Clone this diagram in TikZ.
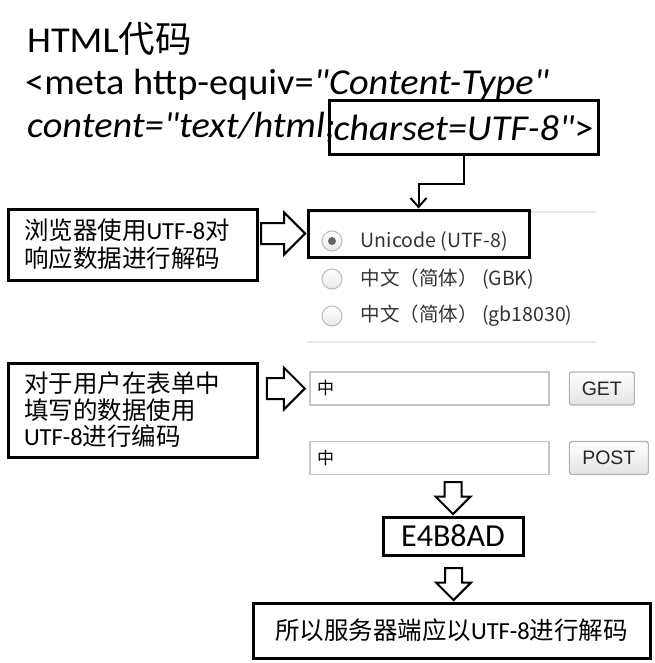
\documentclass[tikz,border=0pt]{standalone}
\usepackage{fontspec}
\setmainfont{Carlito}
\newfontfamily\codefont{Carlito}[FakeStretch=1.05]
\newfontfamily\zhfont{Noto Sans CJK SC}
\newfontfamily\btnfont{Liberation Sans}
\usetikzlibrary{positioning,shapes.arrows,arrows.meta}
\newcommand\zh[1]{{\zhfont #1}}

\tikzset{
	zeile/.style={anchor=base west,inner sep=0pt,font=\codefont\fontsize{36.5}{42}\selectfont},
	kasten/.style={draw,line width=3pt,inner sep=0pt,font=\fontsize{24.5}{28}\selectfont},
	dickpfeil/.style={single arrow,draw,line width=2pt,inner xsep=0pt,inner ysep=9.5pt,
		single arrow head extend=10.5pt,minimum width=40pt,minimum height=44pt},
	runter/.style={rotate=-90,inner ysep=7.5pt,single arrow head extend=9pt,
		minimum width=33pt,minimum height=32pt},
	verbinder/.style={line width=2pt,-{Straight Barb[length=9pt,width=16pt]}},
	trenner/.style={gray!18,line width=1.5pt},
	radio/.style={circle,draw=gray!55,line width=1pt,top color=white,bottom color=gray!18,
		inner sep=0pt,minimum size=20pt},
	option/.style={inner sep=0pt,text=black!80,font=\zhfont\fontsize{19.5}{24}\selectfont},
	eingabe/.style={draw=gray!45,line width=1.5pt,minimum width=239pt,minimum height=33pt,
		text width=225pt,inner xsep=7pt,align=left,font=\zhfont\fontsize{17}{18}\selectfont},
	knopf/.style={draw=gray!60,line width=1.2pt,rounded corners=2.5pt,top color=white,
		bottom color=gray!22,minimum height=33pt,text=black!85,
		font=\btnfont\fontsize{19.5}{20}\selectfont}
}

\begin{document}
\begin{tikzpicture}[x=1pt,y=-1pt]
	\useasboundingbox (0,0) rectangle (654,663);
	% Titel und HTML-Code
	\node[zeile] (titel) at (27,53) {HTML\zh{代码}};
	\node[zeile] (meta) at (25,95) {<meta http-equiv=\textit{"Content-Type"}};
	\node[zeile] (content) at (27,138) {\textit{content="text/html;}};
	\node[kasten,minimum width=269pt,minimum height=54pt,font=\codefont\fontsize{36.5}{42}\selectfont]
		(charset) at (463.5,128) {\textit{charset=UTF-8"}>};
	% Browser: Auswahl der Kodierung
	\draw[trenner] (308,212) -- (596,212);
	\draw[trenner] (307,342) -- (596,342);
	\foreach \y/\t [count=\i] in {241/Unicode (UTF-8),279/中文（简体） (GBK),316/中文（简体） (gb18030)}{
		\node[radio] (radio\i) at (332,\y) {};
		\node[option,anchor=west,right=18pt of radio\i] (opt\i) {\t};
	}
	\fill[black!60] (radio1) circle (4pt);
	\node[kasten,minimum width=221pt,minimum height=47pt] (unibox) at (418.5,233.5) {};
	\draw[verbinder] (charset.south) -- ++(0,27) -| (unibox.north);
	% Erklaerung links oben
	\node[kasten,minimum width=249pt,minimum height=71pt,text width=217pt,align=left]
		(erkl1) at (132.5,244.5) {\zh{浏览器使用}UTF-8\zh{对}\\\zh{响应数据进行解码}};
	\node[dickpfeil,anchor=east] (pfeil1) at (unibox.west) {};
	% Formular
	\node[eingabe] (eingabe1) at (429.5,388.5) {\zh{中}};
	\node[eingabe,below=35pt of eingabe1] (eingabe2) {\zh{中}};
	\node[knopf,minimum width=65pt,right=19pt of eingabe1] (get) {GET};
	\node[knopf,minimum width=79pt,right=19pt of eingabe2] (post) {POST};
	% Erklaerung links unten
	\node[kasten,minimum width=249pt,minimum height=94pt,text width=217pt,align=left,
		font=\fontsize{24.5}{26.5}\selectfont]
		(erkl2) at (132.5,410) {\zh{对于用户在表单中}\\\zh{填写的数据使用}\\UTF-8\zh{进行编码}};
	\node[dickpfeil,anchor=east,minimum height=38pt] (pfeil2) at ([xshift=-3pt]eingabe1.west) {};
	% Kodierung und Ergebnis
	\node[kasten,minimum width=140pt,minimum height=38pt,font=\fontsize{32}{38}\selectfont]
		(hex) at (453,536) {E4B8AD};
	\node[kasten,minimum width=397pt,minimum height=55pt] (ergebnis) at (451.5,630.5)
		{\zh{所以服务器端应以}UTF-8\zh{进行解码}};
	\node[dickpfeil,runter,anchor=east] (pfeil3) at (hex.north) {};
	\node[dickpfeil,runter,anchor=east] (pfeil4) at ([xshift=2pt]ergebnis.north) {};
\end{tikzpicture}
\end{document}
